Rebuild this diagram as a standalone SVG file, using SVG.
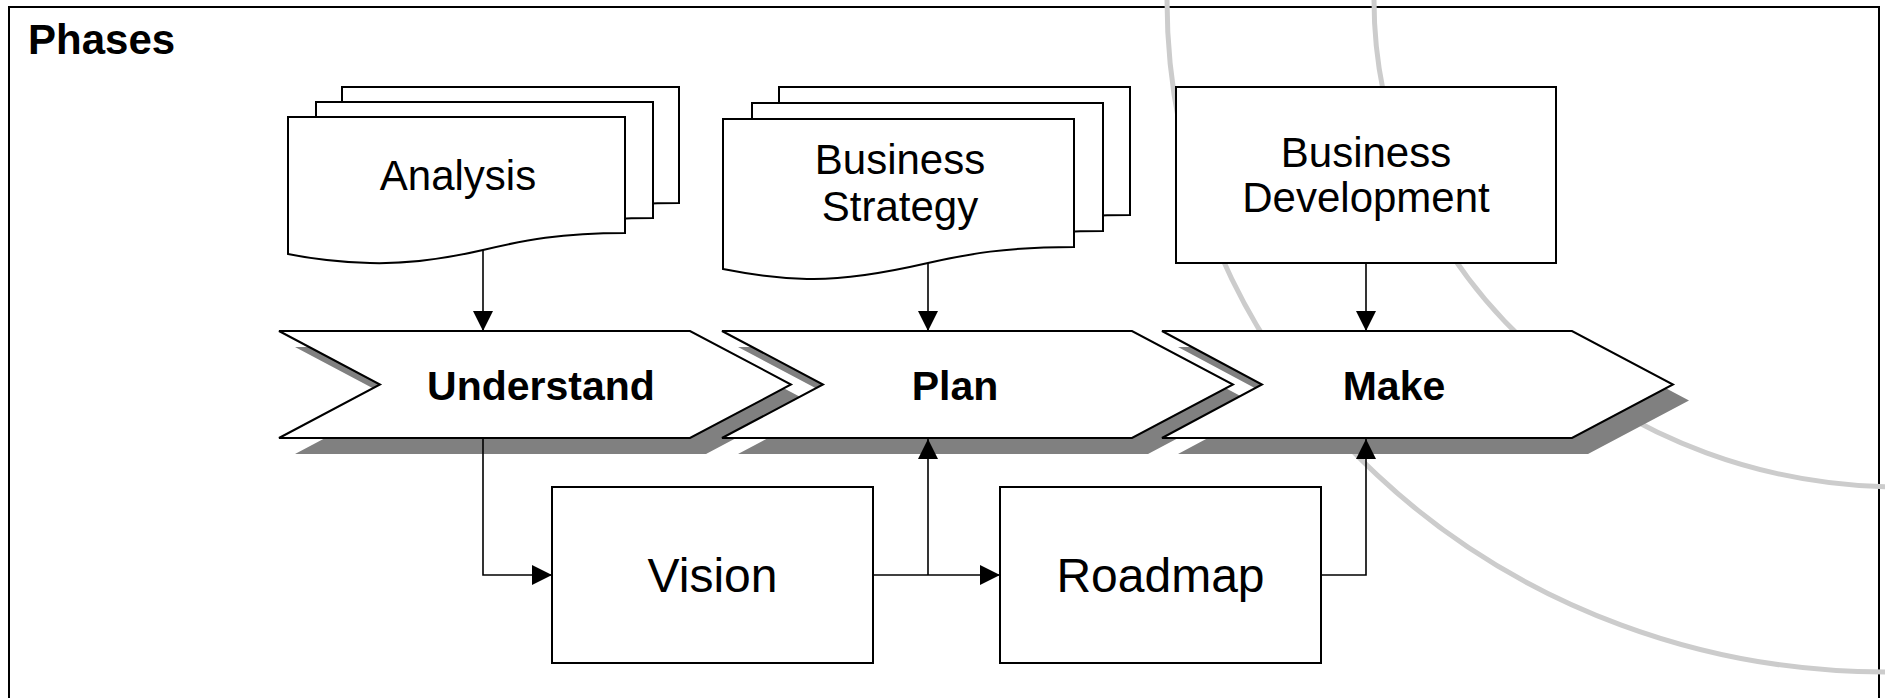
<svg xmlns="http://www.w3.org/2000/svg" width="1885" height="698" viewBox="0 0 1885 698">
  <style>
    .frame { fill: #ffffff; stroke: #000000; stroke-width: 2; }
    .arc { fill: none; stroke: #cccccc; stroke-width: 5; }
    .shape { fill: #ffffff; stroke: #000000; stroke-width: 2; stroke-linejoin: miter; }
    .shadow { fill: #808080; stroke: none; }
    .conn { fill: none; stroke: #000000; stroke-width: 1.6; }
    .lbl { font-family: "Liberation Sans", Arial, sans-serif; font-size: 42px; fill: #000000; text-anchor: middle; }
    .big { font-size: 48px; }
    .bold { font-weight: bold; font-size: 41px; }
    .title { font-family: "Liberation Sans", Arial, sans-serif; font-size: 42px; font-weight: bold; fill: #000000; }
  </style>
  <defs>
    <marker id="arrow" markerUnits="userSpaceOnUse" markerWidth="20" markerHeight="20" refX="20" refY="10" orient="auto">
      <path d="M0,0 L20,10 L0,20 Z" fill="#000000"/>
    </marker>
    <path id="docA" d="M288,117 H625 V233 C 560,233 525,240 483,250 C 440,260 405,264 370,263 C 340,262 312,259 288,254 Z"/>
    <path id="docB" d="M723,119 H1074 V247 C 1005,247 968,254 928,263 C 880,274 840,280 807,279 C 776,278 748,274 723,269 Z"/>
    <path id="chevU" d="M279,331 H690 L791,384.5 L690,438 H279 L380,384.5 Z"/>
    <path id="chevP" d="M722,331 H1132 L1233,384.5 L1132,438 H722 L823,384.5 Z"/>
    <path id="chevM" d="M1162,331 H1572 L1673,384.5 L1572,438 H1162 L1262,384.5 Z"/>
  </defs>

  <rect class="frame" x="9" y="7" width="1870" height="720"/>
  <text class="title" x="28" y="54">Phases</text>

  <g id="background-arcs">
    <ellipse class="arc" cx="1885" cy="0" rx="718" ry="672"/>
    <ellipse class="arc" cx="1900" cy="0" rx="526" ry="487"/>
  </g>

  <g id="analysis">
    <use href="#docA" class="shape" x="54" y="-30"/>
    <use href="#docA" class="shape" x="28" y="-15"/>
    <use href="#docA" class="shape"/>
    <text class="lbl" x="458" y="190">Analysis</text>
  </g>

  <g id="business-strategy">
    <use href="#docB" class="shape" x="56" y="-32"/>
    <use href="#docB" class="shape" x="29" y="-16"/>
    <use href="#docB" class="shape"/>
    <text class="lbl" x="900" y="174">Business</text>
    <text class="lbl" x="900" y="221">Strategy</text>
  </g>

  <g id="business-development">
    <rect class="shape" x="1176" y="87" width="380" height="176"/>
    <text class="lbl" x="1366" y="167">Business</text>
    <text class="lbl" x="1366" y="212">Development</text>
  </g>

  <g id="understand">
    <use href="#chevU" class="shadow" x="16" y="16"/>
    <use href="#chevU" class="shape"/>
    <text class="lbl bold" x="541" y="400">Understand</text>
  </g>

  <g id="plan">
    <use href="#chevP" class="shadow" x="16" y="16"/>
    <use href="#chevP" class="shape"/>
    <text class="lbl bold" x="955" y="400">Plan</text>
  </g>

  <g id="make">
    <use href="#chevM" class="shadow" x="16" y="16"/>
    <use href="#chevM" class="shape"/>
    <text class="lbl bold" x="1394" y="400">Make</text>
  </g>

  <g id="vision">
    <rect class="shape" x="552" y="487" width="321" height="176"/>
    <text class="lbl big" x="712.5" y="592">Vision</text>
  </g>

  <g id="roadmap">
    <rect class="shape" x="1000" y="487" width="321" height="176"/>
    <text class="lbl big" x="1160.5" y="592">Roadmap</text>
  </g>

  <g id="connectors">
    <path class="conn" d="M483,250 V331" marker-end="url(#arrow)"/>
    <path class="conn" d="M928,263 V331" marker-end="url(#arrow)"/>
    <path class="conn" d="M1366,263 V331" marker-end="url(#arrow)"/>
    <path class="conn" d="M483,438 V575 H552" marker-end="url(#arrow)"/>
    <path class="conn" d="M873,575 H1000" marker-end="url(#arrow)"/>
    <path class="conn" d="M928,575 V439" marker-end="url(#arrow)"/>
    <path class="conn" d="M1321,575 H1366 V439" marker-end="url(#arrow)"/>
  </g>
</svg>
